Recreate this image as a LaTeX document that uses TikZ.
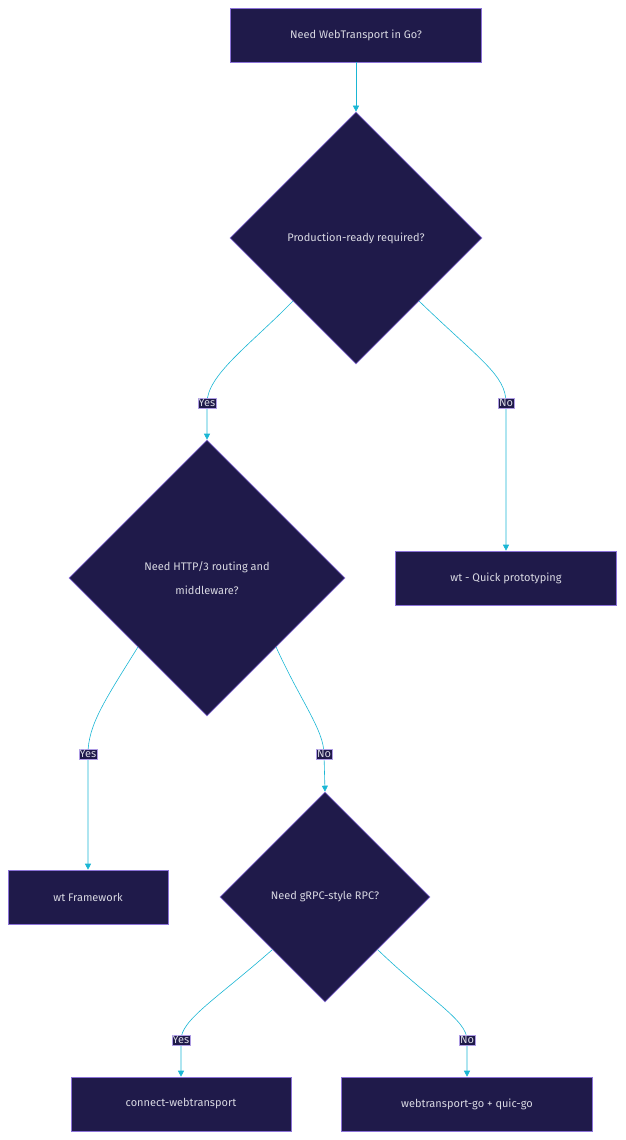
\documentclass[tikz,border=0pt]{standalone}
\usepackage{fontspec}
\setmainfont{Fira Sans}
\usetikzlibrary{arrows.meta,shapes.geometric}
\definecolor{nodefill}{HTML}{1F1A4A}
\definecolor{nodeline}{HTML}{8B72D8}
\definecolor{nodetext}{HTML}{D8D8E2}
\definecolor{edgecol}{HTML}{1AB6D4}
\begin{document}
\begin{tikzpicture}[x=1pt,y=-1pt,
      box_node/.style={
         rectangle,
         draw=nodeline,
         fill=nodefill,
         text=nodetext,
         line width=0.6pt,
         minimum height=54pt,
         inner sep=0pt,
         font=\fontsize{11}{14}\selectfont},
      dec_node/.style={
         diamond,
         draw=nodeline,
         fill=nodefill,
         text=nodetext,
         line width=0.6pt,
         inner sep=0pt,
         align=center,
         font=\fontsize{11}{24}\selectfont},
      lbl/.style={
         fill=nodefill,
         draw=nodeline!70,
         line width=0.3pt,
         text=nodetext,
         inner sep=1pt,
         font=\fontsize{11}{13}\selectfont},
      edge_arrow/.style={
         -{Triangle[length=6pt,width=6pt]},
         draw=edgecol,
         line width=0.6pt}
]
      \useasboundingbox (0,0) rectangle (625,1140);
      % nodes
      \node[box_node,minimum width=251pt] (start) at (356,35) {Need WebTransport in Go?};
      \node[dec_node,minimum width=252pt,minimum height=252pt] (prod) at (356,238) {Production-ready required?};
      \node[dec_node,minimum width=276pt,minimum height=276pt] (http) at (207,578) {Need HTTP/3 routing and\\middleware?};
      \node[box_node,minimum width=221pt] (quick) at (506,578) {wt - Quick prototyping};
      \node[box_node,minimum width=160pt] (frame) at (88,897) {wt Framework};
      \node[dec_node,minimum width=210pt,minimum height=210pt] (grpc) at (325,897) {Need gRPC-style RPC?};
      \node[box_node,minimum width=220pt] (connect) at (181,1104) {connect-webtransport};
      \node[box_node,minimum width=251pt] (quicgo) at (467,1104) {webtransport-go + quic-go};

      % label points
      \coordinate (y1) at (207,403);
      \coordinate (n1) at (506,403);
      \coordinate (y2) at (88,754);
      \coordinate (n2) at (324,754);
      \coordinate (y3) at (181,1040);
      \coordinate (n3) at (467,1040);

      % connectors
      \draw[edge_arrow] (start) -- (prod);
      \draw[edge_arrow] (prod.south west) .. controls (250,345) and (207,375) .. (y1) node[lbl] {Yes} -- (http.north);
      \draw[edge_arrow] (prod.south east) .. controls (480,360) and (506,375) .. (n1) node[lbl] {No} -- (quick.north);
      \draw[edge_arrow] (http.south west) .. controls (105,700) and (88,725) .. (y2) node[lbl] {Yes} -- (frame.north);
      \draw[edge_arrow] (http.south east) .. controls (300,700) and (324,730) .. (n2) node[lbl] {No} -- (grpc.north);
      \draw[edge_arrow] (grpc.south west) .. controls (215,1000) and (181,1020) .. (y3) node[lbl] {Yes} -- (connect.north);
      \draw[edge_arrow] (grpc.south east) .. controls (430,1000) and (467,1020) .. (n3) node[lbl] {No} -- (quicgo.north);
\end{tikzpicture}
\end{document}
